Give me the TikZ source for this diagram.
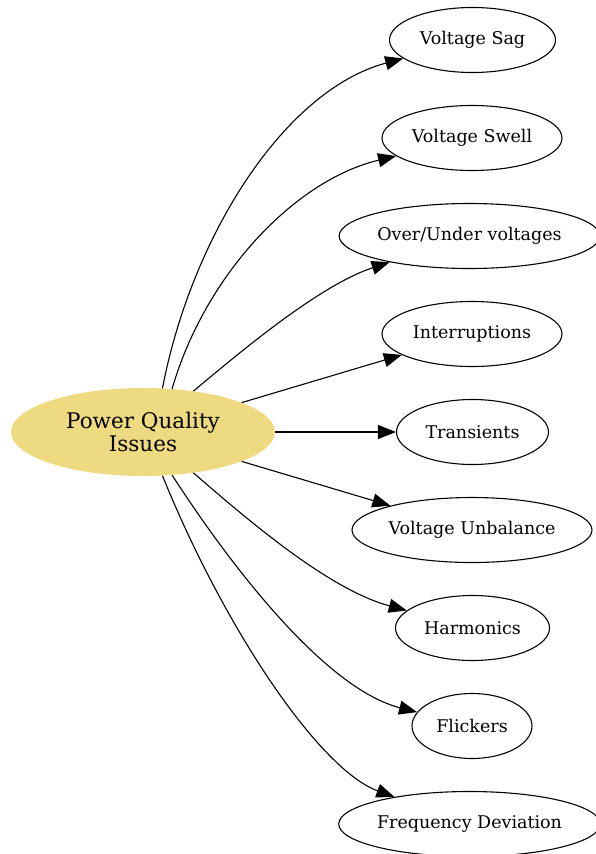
\documentclass[tikz,border=0pt]{standalone}
\usepackage{fontspec}
\setmainfont{DejaVu Serif}
\usetikzlibrary{shapes.geometric,arrows.meta}
\definecolor{gold}{RGB}{238,218,128}
\begin{document}
\begin{tikzpicture}[x=1pt,y=-1pt,
  leaf/.style={ellipse,draw,line width=1.1pt,minimum height=65pt,inner sep=0pt,font=\fontsize{17.5}{20}\selectfont},
  hub/.style={ellipse,fill=gold,minimum width=264pt,minimum height=88pt,inner sep=0pt,align=center,font=\fontsize{21.5}{23}\selectfont},
  conn/.style={line width=1.1pt,-{Triangle[length=18pt,width=14pt]}}]
\useasboundingbox (0,0) rectangle (595,854);
\node[hub] (c) at (143,432) {Power Quality\\Issues};
\node[leaf,minimum width=166pt] (sag) at (472.5,40) {Voltage Sag};
\node[leaf,minimum width=180pt] (swell) at (472,138) {Voltage Swell};
\node[leaf,minimum width=255pt] (ou) at (469.5,236) {Over/Under voltages};
\node[leaf,minimum width=180pt] (intr) at (472,334) {Interruptions};
\node[leaf,minimum width=152pt] (tr) at (472.5,432) {Transients};
\node[leaf,minimum width=240pt] (unb) at (472,530) {Voltage Unbalance};
\node[leaf,minimum width=154pt] (harm) at (472.5,628) {Harmonics};
\node[leaf,minimum width=120pt] (fl) at (472,726) {Flickers};
\node[leaf,minimum width=255pt] (fd) at (469.5,824) {Frequency Deviation};
\draw[conn] (c.66) .. controls (192,235) and (285,90) .. (sag);
\draw[conn] (c.56) .. controls (205,275) and (295,180) .. (swell);
\draw[conn] (c.39) .. controls (240,352) and (320,285) .. (ou);
\draw[conn] (c) -- (intr);
\draw[conn] (c) -- (tr);
\draw[conn] (c) -- (unb);
\draw[conn] (c.-39) .. controls (250,522) and (330,590) .. (harm);
\draw[conn] (c.-56) .. controls (240,580) and (330,690) .. (fl);
\draw[conn] (c.-66) .. controls (225,630) and (320,770) .. (fd);
\end{tikzpicture}
\end{document}
